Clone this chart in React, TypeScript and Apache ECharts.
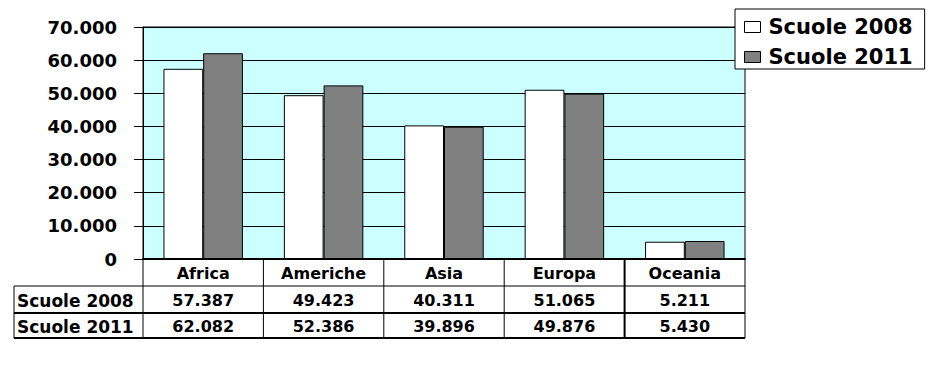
import React, { useEffect, useRef } from "react";
import * as echarts from "echarts";

const categories = ["Africa", "Americhe", "Asia", "Europa", "Oceania"];
const seriesNames = ["Scuole 2008", "Scuole 2011"];
const scuole2008 = [57387, 49423, 40311, 51065, 5211];
const scuole2011 = [62082, 52386, 39896, 49876, 5430];
const seriesValues = [scuole2008, scuole2011];
const seriesColors = ["#ffffff", "#808080"];
const yMin = 0;
const yMax = 70000;
const yInterval = 10000;

const FONT = '"DejaVu Sans", "Liberation Sans", Arial, sans-serif';

const fmt = (v: number) =>
  Math.round(v)
    .toString()
    .replace(/\B(?=(\d{3})+(?!\d))/g, ".");

export default function App() {
  const ref = useRef<HTMLDivElement>(null);

  useEffect(() => {
    if (!ref.current) return;
    const chart = echarts.init(ref.current, undefined, { renderer: "svg" });

    const gridLeft = 143;
    const gridTop = 27;
    const gridRightPx = 745;
    const gridBottomPx = 259;

    const option: any = {
      animation: false,
      backgroundColor: "#ffffff",
      grid: {
        left: gridLeft,
        top: gridTop,
        right: 939 - gridRightPx,
        bottom: 368 - gridBottomPx,
        show: true,
        backgroundColor: "#ccffff",
        borderColor: "#000000",
        borderWidth: 1,
      },
      legend: {
        orient: "vertical",
        left: 735,
        top: 9,
        padding: [7, 12, 1, 9],
        itemGap: 8,
        itemWidth: 16,
        itemHeight: 11,
        icon: "rect",
        backgroundColor: "#ffffff",
        borderColor: "#000000",
        borderWidth: 1,
        selectedMode: false,
        data: seriesNames.map((n, i) => ({
          name: n,
          itemStyle: { color: seriesColors[i], borderColor: "#000000", borderWidth: 1 },
        })),
        textStyle: {
          fontFamily: FONT,
          fontWeight: "bold",
          fontSize: 21,
          lineHeight: 22,
          color: "#000000",
          padding: [0, 0, 0, 3],
        },
      },
      xAxis: {
        type: "category",
        data: categories,
        axisLine: { show: true, lineStyle: { color: "#000000", width: 2 } },
        axisTick: { show: false },
        axisLabel: { show: false },
        splitLine: { show: false },
      },
      yAxis: {
        type: "value",
        min: yMin,
        max: yMax,
        interval: yInterval,
        axisLine: { show: true, lineStyle: { color: "#000000", width: 1 } },
        axisTick: { show: true, length: 9, lineStyle: { color: "#000000", width: 1 } },
        axisLabel: {
          margin: 26,
          formatter: (v: number) => fmt(v),
          fontFamily: FONT,
          fontWeight: "bold",
          fontSize: 18,
          color: "#000000",
        },
        splitLine: { show: true, lineStyle: { color: "#000000", width: 1 } },
      },
      series: seriesNames.map((n, i) => ({
        name: n,
        type: "bar",
        data: seriesValues[i],
        barGap: "0%",
        barCategoryGap: "34%",
        itemStyle: { color: seriesColors[i], borderColor: "#000000", borderWidth: 1 },
      })),
    };

    chart.setOption(option);

    // Data table under the plot
    const centers = categories.map((_, i) => chart.convertToPixel({ xAxisIndex: 0 }, i) as number);
    const band = centers.length > 1 ? centers[1] - centers[0] : gridRightPx - gridLeft;
    const bounds = [centers[0] - band / 2, ...centers.map((c) => c + band / 2)];
    const tableLeft = 14;
    const rowTops = [gridBottomPx, 286, 313];
    const tableBottom = 338;
    const rowBottoms = [286, 313, tableBottom];

    const graphics: any[] = [];
    const line = (x1: number, y1: number, x2: number, y2: number, w = 1) =>
      graphics.push({
        type: "line",
        shape: { x1, y1, x2, y2 },
        style: { stroke: "#000000", lineWidth: w },
        silent: true,
      });

    line(tableLeft, 286, bounds[bounds.length - 1], 286, 1);
    line(tableLeft, 313, bounds[bounds.length - 1], 313, 2);
    line(tableLeft, tableBottom, bounds[bounds.length - 1], tableBottom, 2);
    line(tableLeft, 286, tableLeft, tableBottom, 1);
    bounds.forEach((b, i) => line(b, gridBottomPx, b, tableBottom, i === 4 ? 2 : 1));

    const text = (t: string, x: number, y: number, align: string, size: number) =>
      graphics.push({
        type: "text",
        x,
        y,
        silent: true,
        style: {
          text: t,
          align,
          verticalAlign: "middle",
          fontFamily: FONT,
          fontWeight: "bold",
          fontSize: size,
          fill: "#000000",
        },
      });

    categories.forEach((c, i) => text(c, centers[i], (rowTops[0] + rowBottoms[0]) / 2 + 1, "center", 16));
    seriesNames.forEach((n, r) => {
      const cy = (rowTops[r + 1] + rowBottoms[r + 1]) / 2 + 1;
      text(n, 17, cy, "left", 17);
      seriesValues[r].forEach((v, i) => text(fmt(v), centers[i], cy, "center", 16));
    });

    chart.setOption({ graphic: graphics });

    return () => chart.dispose();
  }, []);

  return (
    <div
      ref={ref}
      style={{ position: "absolute", left: 0, top: 0, width: 939, height: 368 }}
    />
  );
}
